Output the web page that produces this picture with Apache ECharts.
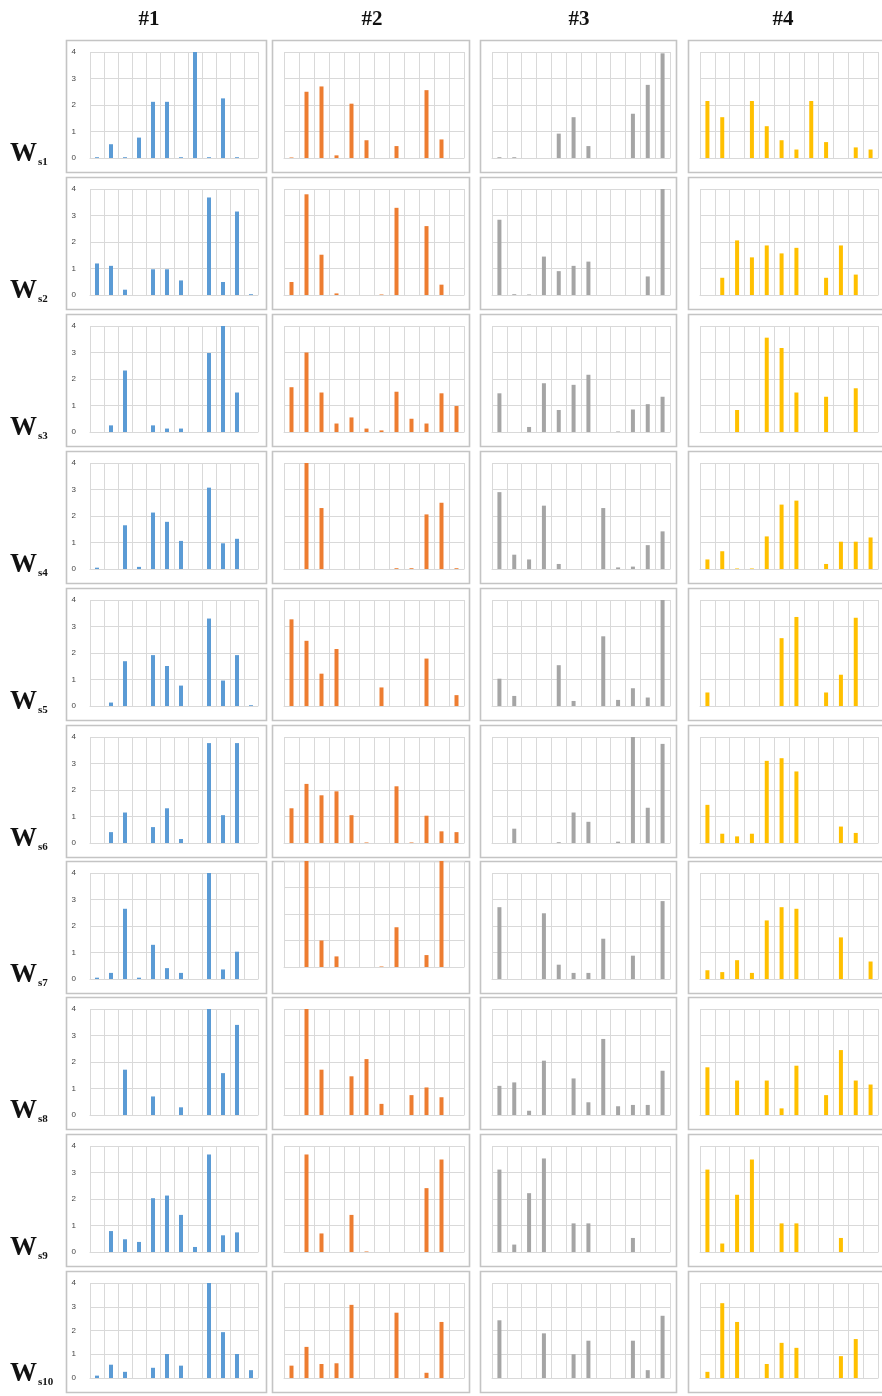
<!DOCTYPE html>
<html>
<head>
<meta charset="utf-8">
<script src="https://cdn.jsdelivr.net/npm/echarts@6/dist/echarts.min.js"></script>
<style>
html,body{margin:0;padding:0;background:#fff;}
#chart{width:882px;height:1396px;}
</style>
</head>
<body>
<div id="chart"></div>
<script>
// ---------- DATA ----------
const categories = ['1','2','3','4','5','6','7','8','9','10','11','12'];
const yTicks = [0, 1, 2, 3, 4];
const colTitles = ['#1', '#2', '#3', '#4'];
const rowSubs = ['s1','s2','s3','s4','s5','s6','s7','s8','s9','s10'];

const ws1_c1 = [0.03, 0.52, 0.03, 0.77, 2.12, 2.12, 0.03, 4.0, 0.03, 2.25, 0.03, 0];
const ws1_c2 = [0.02, 2.5, 2.7, 0.1, 2.05, 0.67, 0, 0.45, 0, 2.56, 0.7, 0];
const ws1_c3 = [0.03, 0.03, 0, 0, 0.92, 1.54, 0.45, 0, 0, 1.67, 2.76, 3.95];
const ws1_c4 = [2.15, 1.54, 0, 2.15, 1.2, 0.67, 0.32, 2.15, 0.6, 0, 0.4, 0.32];

const ws2_c1 = [1.19, 1.1, 0.2, 0, 0.97, 0.97, 0.55, 0, 3.68, 0.49, 3.15, 0.03];
const ws2_c2 = [0.49, 3.8, 1.52, 0.06, 0, 0, 0.02, 3.29, 0, 2.6, 0.39, 0];
const ws2_c3 = [2.84, 0.03, 0.02, 1.45, 0.9, 1.1, 1.26, 0, 0, 0, 0.7, 4.0];
const ws2_c4 = [0, 0.65, 2.06, 1.42, 1.87, 1.57, 1.78, 0, 0.65, 1.87, 0.77, 0];

const ws3_c1 = [0, 0.25, 2.32, 0, 0.25, 0.13, 0.13, 0, 2.98, 4.0, 1.49, 0];
const ws3_c2 = [1.69, 3.0, 1.49, 0.32, 0.55, 0.13, 0.06, 1.52, 0.5, 0.32, 1.46, 0.98];
const ws3_c3 = [1.46, 0, 0.19, 1.84, 0.83, 1.78, 2.16, 0, 0.02, 0.85, 1.05, 1.33];
const ws3_c4 = [0, 0, 0.83, 0, 3.56, 3.17, 1.49, 0, 1.33, 0, 1.65, 0];

const ws4_c1 = [0.05, 0, 1.65, 0.08, 2.13, 1.78, 1.06, 0, 3.07, 0.97, 1.14, 0];
const ws4_c2 = [0, 4.0, 2.3, 0, 0, 0, 0, 0.03, 0.03, 2.06, 2.5, 0.03];
const ws4_c3 = [2.9, 0.54, 0.36, 2.39, 0.19, 0, 0, 2.3, 0.06, 0.09, 0.9, 1.42];
const ws4_c4 = [0.36, 0.67, 0.02, 0.02, 1.23, 2.43, 2.58, 0, 0.19, 1.03, 1.03, 1.19];

const ws5_c1 = [0, 0.13, 1.69, 0, 1.92, 1.51, 0.77, 0, 3.3, 0.96, 1.92, 0.03];
const ws5_c2 = [3.27, 2.46, 1.22, 2.15, 0, 0, 0.7, 0, 0, 1.79, 0, 0.41];
const ws5_c3 = [1.03, 0.38, 0, 0, 1.54, 0.19, 0, 2.63, 0.23, 0.67, 0.32, 4.0];
const ws5_c4 = [0.51, 0, 0, 0, 0, 2.56, 3.36, 0, 0.51, 1.18, 3.33, 0];

const ws6_c1 = [0, 0.41, 1.15, 0, 0.6, 1.31, 0.15, 0, 3.77, 1.05, 3.77, 0];
const ws6_c2 = [1.31, 2.23, 1.8, 1.95, 1.05, 0.02, 0, 2.14, 0.02, 1.03, 0.44, 0.41];
const ws6_c3 = [0, 0.54, 0, 0, 0.03, 1.15, 0.8, 0, 0.05, 4.0, 1.33, 3.74];
const ws6_c4 = [1.44, 0.35, 0.25, 0.35, 3.1, 3.2, 2.7, 0, 0, 0.62, 0.38, 0];

const ws7_c1 = [0.05, 0.23, 2.65, 0.05, 1.29, 0.41, 0.23, 0, 4.0, 0.36, 1.03, 0];
const ws7_c2 = [0, 4.0, 1.0, 0.4, 0, 0, 0.02, 1.5, 0, 0.45, 4.0, 0];
const ws7_c3 = [2.71, 0, 0, 2.48, 0.54, 0.23, 0.23, 1.52, 0, 0.88, 0, 2.94];
const ws7_c4 = [0.33, 0.26, 0.71, 0.23, 2.21, 2.71, 2.65, 0, 0, 1.57, 0, 0.66];

const ws8_c1 = [0, 0, 1.71, 0, 0.7, 0, 0.29, 0, 4.0, 1.58, 3.4, 0];
const ws8_c2 = [0, 4.0, 1.71, 0, 1.46, 2.11, 0.42, 0, 0.75, 1.04, 0.67, 0];
const ws8_c3 = [1.1, 1.23, 0.16, 2.05, 0, 1.38, 0.48, 2.87, 0.33, 0.38, 0.38, 1.67];
const ws8_c4 = [1.8, 0, 1.3, 0, 1.3, 0.25, 1.86, 0, 0.75, 2.45, 1.3, 1.15];

const ws9_c1 = [0, 0.79, 0.48, 0.38, 2.03, 2.13, 1.4, 0.19, 3.68, 0.63, 0.74, 0];
const ws9_c2 = [0, 3.68, 0.7, 0, 1.4, 0.02, 0, 0, 0, 2.41, 3.49, 0];
const ws9_c3 = [3.11, 0.28, 2.22, 3.53, 0, 1.08, 1.08, 0, 0, 0.53, 0, 0];
const ws9_c4 = [3.11, 0.32, 2.16, 3.49, 0, 1.08, 1.08, 0, 0, 0.53, 0, 0];

const ws10_c1 = [0.1, 0.56, 0.26, 0, 0.43, 1.01, 0.52, 0, 4.0, 1.93, 1.01, 0.33];
const ws10_c2 = [0.52, 1.31, 0.59, 0.62, 3.08, 0, 0, 2.75, 0, 0.22, 2.36, 0];
const ws10_c3 = [2.43, 0, 0, 1.88, 0, 1.0, 1.57, 0, 0, 1.57, 0.33, 2.62];
const ws10_c4 = [0.26, 3.15, 2.36, 0, 0.59, 1.48, 1.27, 0, 0, 0.92, 1.64, 0];

const panelData = [
  [ws1_c1, ws1_c2, ws1_c3, ws1_c4],
  [ws2_c1, ws2_c2, ws2_c3, ws2_c4],
  [ws3_c1, ws3_c2, ws3_c3, ws3_c4],
  [ws4_c1, ws4_c2, ws4_c3, ws4_c4],
  [ws5_c1, ws5_c2, ws5_c3, ws5_c4],
  [ws6_c1, ws6_c2, ws6_c3, ws6_c4],
  [ws7_c1, ws7_c2, ws7_c3, ws7_c4],
  [ws8_c1, ws8_c2, ws8_c3, ws8_c4],
  [ws9_c1, ws9_c2, ws9_c3, ws9_c4],
  [ws10_c1, ws10_c2, ws10_c3, ws10_c4]
];

// ---------- LAYOUT / STYLE ----------
const colColors = ['#5B9BD5', '#ED7D31', '#A5A5A5', '#FFC000'];
const panelX = [66, 272, 480, 688];
const panelW = [200, 197, 196, 210];
const plotX = [90, 284, 492, 700];
const plotW = [168, 180, 178, 178];
const rowTop = [40, 177, 314, 451, 588, 725, 861, 997, 1134, 1271];
const titleX = [149, 372, 579, 783];
const gridCol = '#d9d9d9';
const serif = '"Liberation Serif","Times New Roman",serif';

const grids = [], xAxes = [], yAxes = [], series = [], graphics = [];
let idx = 0;
rowTop.forEach((top, r) => {
  const last = r === rowTop.length - 1;
  const panelH = last ? 121 : 132;
  const plotTop = top + 12;
  const plotH = last ? 95 : 106;
  for (let c = 0; c < 4; c++) {
    const shift = (r === 6 && c === 1) ? -12 : 0;
    graphics.push({
      type: 'rect', silent: true,
      shape: { x: panelX[c] + 0.5, y: top + 0.5, width: panelW[c], height: panelH },
      style: { fill: null, stroke: '#c4c4c4', lineWidth: 1.6 }
    });
    grids.push({ left: plotX[c], top: plotTop + shift, width: plotW[c], height: plotH, containLabel: false });
    xAxes.push({
      type: 'category', gridIndex: idx, data: categories,
      axisTick: { show: false }, axisLabel: { show: false },
      axisLine: { show: true, lineStyle: { color: gridCol, width: 1 } },
      splitLine: { show: true, interval: 0, lineStyle: { color: gridCol, width: 1 } }
    });
    yAxes.push({
      type: 'value', gridIndex: idx, min: yTicks[0], max: yTicks[yTicks.length - 1], interval: 1,
      axisLine: { show: false }, axisTick: { show: false },
      axisLabel: { show: c === 0, fontSize: 8, color: '#444', margin: 14, fontFamily: 'Arial' },
      splitLine: { show: true, lineStyle: { color: gridCol, width: 1 } }
    });
    series.push({
      type: 'bar', xAxisIndex: idx, yAxisIndex: idx, data: panelData[r][c],
      barWidth: 4, itemStyle: { color: colColors[c] }, silent: true
    });
    idx++;
  }
  // row label W + subscript
  const base = plotTop + plotH;
  graphics.push({
    type: 'text', silent: true, x: 10, y: base + 10,
    style: { text: 'W', font: 'bold 27px ' + serif, fill: '#111', textVerticalAlign: 'bottom', textAlign: 'left' }
  });
  graphics.push({
    type: 'text', silent: true, x: 38, y: base + 10,
    style: { text: rowSubs[r], font: 'bold 11px ' + serif, fill: '#111', textVerticalAlign: 'bottom', textAlign: 'left' }
  });
});

colTitles.forEach((t, c) => {
  graphics.push({
    type: 'text', silent: true, x: titleX[c], y: 20,
    style: { text: t, font: 'bold 21px ' + serif, fill: '#111', textAlign: 'center', textVerticalAlign: 'middle' }
  });
});

const chart = echarts.init(document.getElementById('chart'), null, { renderer: 'canvas' });
chart.setOption({
  backgroundColor: '#ffffff',
  animation: false,
  grid: grids,
  xAxis: xAxes,
  yAxis: yAxes,
  series: series,
  graphic: graphics
});
</script>
</body>
</html>
